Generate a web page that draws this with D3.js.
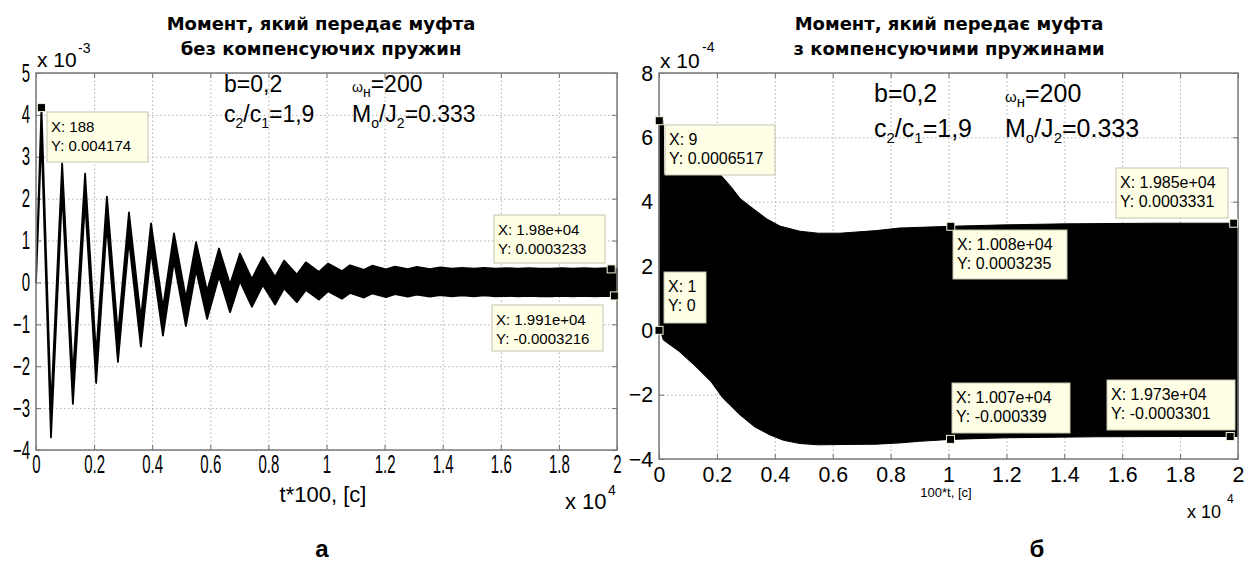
<!DOCTYPE html>
<html>
<head>
<meta charset="utf-8">
<script src="https://cdn.jsdelivr.net/npm/d3@7"></script>
<style>
body { margin: 0; background: #fff; }
svg text { font-family: "Liberation Sans", Arial, sans-serif; fill: #000; }
.title { font-family: "DejaVu Sans", sans-serif !important; font-weight: bold; font-size: 18px; }
.grid line { stroke: #b0b0b0; stroke-dasharray: 1.5, 2.5; }
.grid path, .ticks path { display: none; }
.ticks line { stroke: #707070; }
</style>
</head>
<body>
<svg id="fig" width="1245" height="563"></svg>
<script>
// ---- data: left chart (values x 10^-3), extremes
var leftPeakX = [188, 900, 1690, 2440, 3200, 3960, 4750, 5510, 6300, 7020, 7810, 8540, 9290, 10050,
                 10810, 11570, 12360, 13110, 13910, 14660, 15420, 16180, 16970, 17730, 18480, 19240, 20000];
var leftPeakY = [4.174, 2.84, 2.6, 2.05, 1.67, 1.41, 1.17, 0.96, 0.81, 0.69, 0.6, 0.52, 0.48, 0.45,
                 0.41, 0.4, 0.38, 0.37, 0.36, 0.35, 0.35, 0.34, 0.34, 0.33, 0.33, 0.33, 0.33];
var leftTroughX = [516, 1270, 2070, 2820, 3610, 4370, 5160, 5890, 6680, 7430, 8230, 8980, 9740,
                   10530, 11290, 12050, 12800, 13560, 14320, 15080, 15830, 16590, 17350, 18100, 18860, 19620];
var leftTroughY = [-3.7, -2.9, -2.4, -1.9, -1.53, -1.27, -1.04, -0.87, -0.71, -0.58, -0.53, -0.47, -0.41,
                   -0.39, -0.36, -0.35, -0.34, -0.34, -0.33, -0.33, -0.33, -0.33, -0.33, -0.32, -0.32, -0.32];
var leftBand = 0.33; // half width of the fast oscillation
var leftTipX = [188, 19800, 19910];
var leftTipY = [4.174, 0.3233, -0.3216];
var leftTipText = [["X: 188", "Y: 0.004174"], ["X: 1.98e+04", "Y: 0.0003233"], ["X: 1.991e+04", "Y: -0.0003216"]];

// ---- data: right chart (values x 10^-4), envelope of the black band
var rightUpX = [0, 9, 150, 165, 1000, 2140, 2500, 2800, 3140, 3730, 4180, 4870, 5500, 6250, 7500,
                8300, 10080, 12000, 14000, 17000, 20000];
var rightUpY = [0, 6.517, 6.517, 4.85, 4.85, 4.82, 4.45, 4.1, 3.86, 3.46, 3.24, 3.08, 3.02, 3.02, 3.1,
                3.18, 3.235, 3.28, 3.31, 3.33, 3.33];
var rightLoX = [0, 60, 150, 690, 1240, 1800, 2200, 2760, 3300, 3830, 4300, 4870, 5500, 6250, 7500,
                8320, 9000, 10070, 12000, 15000, 18000, 20000];
var rightLoY = [0, -0.05, -0.3, -0.65, -1.1, -1.6, -2.1, -2.6, -3.0, -3.25, -3.42, -3.52, -3.56, -3.55,
                -3.54, -3.5, -3.45, -3.39, -3.34, -3.31, -3.3, -3.3];
var rightTipX = [9, 1, 10080, 10070, 19850, 19730];
var rightTipY = [6.517, 0, 3.235, -3.39, 3.331, -3.301];
var rightTipText = [["X: 9", "Y: 0.0006517"], ["X: 1", "Y: 0"], ["X: 1.008e+04", "Y: 0.0003235"],
                    ["X: 1.007e+04", "Y: -0.000339"], ["X: 1.985e+04", "Y: 0.0003331"], ["X: 1.973e+04", "Y: -0.0003301"]];

// ---- ticks
var xTicks = [0, 2000, 4000, 6000, 8000, 10000, 12000, 14000, 16000, 18000, 20000];
var xTickLabels = ["0", "0.2", "0.4", "0.6", "0.8", "1", "1.2", "1.4", "1.6", "1.8", "2"];
var leftYTicks = [-4, -3, -2, -1, 0, 1, 2, 3, 4, 5];
var rightYTicks = [-4, -2, 0, 2, 4, 6, 8];

var svg = d3.select("#fig");

function drawFrame(g, x, y, yTicks, o) {
    var x0 = x.range()[0], x1 = x.range()[1], y0 = y.range()[0], y1 = y.range()[1];
    // gridlines
    g.append("g").attr("class", "grid").attr("transform", "translate(0," + y0 + ")")
        .call(d3.axisBottom(x).tickValues(xTicks).tickSize(-(y0 - y1)).tickFormat(""));
    g.append("g").attr("class", "grid").attr("transform", "translate(" + x0 + ",0)")
        .call(d3.axisLeft(y).tickValues(yTicks).tickSize(-(x1 - x0)).tickFormat(""));
    // inward ticks on all four sides
    var bx = g.append("g").attr("class", "ticks").attr("transform", "translate(0," + y0 + ")")
        .call(d3.axisBottom(x).tickValues(xTicks).tickSizeInner(-5).tickSizeOuter(0).tickPadding(o.xPad)
            .tickFormat(function (d, i) { return xTickLabels[i]; }));
    bx.selectAll("text").style("font-size", o.tickFont + "px")
        .attr("transform", "scale(" + o.sx + ",1)");
    var ly = g.append("g").attr("class", "ticks").attr("transform", "translate(" + x0 + ",0)")
        .call(d3.axisLeft(y).tickValues(yTicks).tickSizeInner(-5).tickSizeOuter(0).tickPadding(o.yPad)
            .tickFormat(d3.format("d")));
    ly.selectAll("text").style("font-size", o.tickFont + "px")
        .attr("x", -o.yPad / o.sx).attr("transform", "scale(" + o.sx + ",1)");
    g.append("g").attr("class", "ticks").attr("transform", "translate(0," + y1 + ")")
        .call(d3.axisTop(x).tickValues(xTicks).tickSizeInner(-5).tickSizeOuter(0).tickFormat(""));
    g.append("g").attr("class", "ticks").attr("transform", "translate(" + x1 + ",0)")
        .call(d3.axisRight(y).tickValues(yTicks).tickSizeInner(-5).tickSizeOuter(0).tickFormat(""));
}

function drawBorder(g, x, y) {
    g.append("rect")
        .attr("x", x.range()[0]).attr("y", y.range()[1])
        .attr("width", x.range()[1] - x.range()[0]).attr("height", y.range()[0] - y.range()[1])
        .attr("fill", "none").attr("stroke", "#7a7a7a").attr("stroke-width", 1.5);
}

function drawTips(g, x, y, tx, ty, texts, boxes, fs) {
    boxes.forEach(function (b, i) {
        g.append("rect").attr("x", b[0]).attr("y", b[1]).attr("width", b[2]).attr("height", b[3])
            .attr("fill", "#ffffe6").attr("stroke", "#c4c4b0").attr("stroke-width", 1);
        texts[i].forEach(function (t, j) {
            g.append("text").attr("x", b[0] + 4).attr("y", b[1] + 20 + j * 19)
                .style("font-size", fs + "px").text(t);
        });
    });
    tx.forEach(function (v, i) {
        g.append("rect").attr("x", x(v) - 4).attr("y", y(ty[i]) - 4).attr("width", 8).attr("height", 8)
            .attr("fill", "#000").attr("stroke", "#f4f4dc").attr("stroke-width", 1);
    });
}

function params(g, xb, xw, y1, y2, fs) {
    var sub = Math.round(fs * 0.6) + "px";
    g.append("text").attr("x", xb).attr("y", y1).style("font-size", fs + "px").text("b=0,2");
    var t = g.append("text").attr("x", xw).attr("y", y1).style("font-size", fs + "px");
    t.append("tspan").style("font-size", sub).text("ω");
    t.append("tspan").attr("dy", 5).style("font-size", sub).text("н");
    t.append("tspan").attr("dy", -5).text("=200");
    var c = g.append("text").attr("x", xb).attr("y", y2).style("font-size", fs + "px");
    c.append("tspan").text("c");
    c.append("tspan").attr("dy", 6).style("font-size", sub).text("2");
    c.append("tspan").attr("dy", -6).text("/c");
    c.append("tspan").attr("dy", 6).style("font-size", sub).text("1");
    c.append("tspan").attr("dy", -6).text("=1,9");
    var m = g.append("text").attr("x", xw).attr("y", y2).style("font-size", fs + "px");
    m.append("tspan").text("M");
    m.append("tspan").attr("dy", 6).style("font-size", sub).text("o");
    m.append("tspan").attr("dy", -6).text("/J");
    m.append("tspan").attr("dy", 6).style("font-size", sub).text("2");
    m.append("tspan").attr("dy", -6).text("=0.333");
}

// ================= left chart =================
var xL = d3.scaleLinear().domain([0, 20000]).range([36, 617]);
var yL = d3.scaleLinear().domain([-4, 5]).range([450, 73]);
var gL = svg.append("g");
drawFrame(gL, xL, yL, leftYTicks, { tickFont: 25, sx: 0.6, xPad: 5, yPad: 6 });

var verts = [{ x: 0, hi: 0, lo: 0 }];
leftPeakX.forEach(function (px, i) {
    verts.push({ x: px, hi: leftPeakY[i], lo: leftPeakY[i] - 2 * leftBand });
    if (i < leftTroughX.length)
        verts.push({ x: leftTroughX[i], hi: leftTroughY[i] + 2 * leftBand, lo: leftTroughY[i] });
});
var areaL = d3.area().x(function (d) { return xL(d.x); })
    .y0(function (d) { return yL(d.lo); }).y1(function (d) { return yL(d.hi); });
gL.append("path").datum(verts).attr("d", areaL)
    .attr("fill", "#000").attr("stroke", "#000").attr("stroke-width", 1.8).attr("stroke-linejoin", "round");
drawBorder(gL, xL, yL);

drawTips(gL, xL, yL, leftTipX, leftTipY, leftTipText,
    [[47, 112, 101, 50], [494, 215, 111, 48], [492, 305, 111, 46]], 15);

gL.append("text").attr("class", "title").attr("x", 321).attr("y", 30).attr("text-anchor", "middle")
    .text("Момент, який передає муфта");
gL.append("text").attr("class", "title").attr("x", 321).attr("y", 55).attr("text-anchor", "middle")
    .text("без компенсуючих пружин");
gL.append("text").attr("x", 37).attr("y", 67).style("font-size", "21px").text("x 10");
gL.append("text").attr("x", 78).attr("y", 53).style("font-size", "14px").text("-3");
gL.append("text").attr("x", 323).attr("y", 502).attr("text-anchor", "middle").style("font-size", "22px").text("t*100, [c]");
gL.append("text").attr("x", 565).attr("y", 509).style("font-size", "22px").text("x 10");
gL.append("text").attr("x", 608).attr("y", 495).style("font-size", "14px").text("4");
gL.append("text").attr("x", 322).attr("y", 557).attr("text-anchor", "middle")
    .style("font-size", "24px").style("font-weight", "bold").text("а");
params(gL, 224, 352, 92, 122, 23);

// ================= right chart =================
var xR = d3.scaleLinear().domain([0, 20000]).range([659, 1238]);
var yR = d3.scaleLinear().domain([-4, 8]).range([459, 73]);
var gR = svg.append("g");
drawFrame(gR, xR, yR, rightYTicks, { tickFont: 22, sx: 0.97, xPad: 7, yPad: 6 });

var band = rightUpX.map(function (v, i) { return [v, rightUpY[i]]; })
    .concat(rightLoX.map(function (v, i) { return [v, rightLoY[i]]; }).reverse());
var lineR = d3.line().x(function (d) { return xR(d[0]); }).y(function (d) { return yR(d[1]); });
gR.append("path").attr("d", lineR(band) + "Z").attr("fill", "#000").attr("stroke", "#000").attr("stroke-width", 1);
drawBorder(gR, xR, yR);

drawTips(gR, xR, yR, rightTipX, rightTipY, rightTipText,
    [[665, 125, 110, 50], [664, 272, 42, 51], [953, 230, 114, 49], [952, 383, 118, 50],
     [1116, 168, 112, 50], [1107, 380, 128, 50]], 16);

gR.append("text").attr("class", "title").attr("x", 949).attr("y", 30).attr("text-anchor", "middle")
    .text("Момент, який передає муфта");
gR.append("text").attr("class", "title").attr("x", 949).attr("y", 55).attr("text-anchor", "middle")
    .text("з компенсуючими пружинами");
gR.append("text").attr("x", 660).attr("y", 68).style("font-size", "21px").text("x 10");
gR.append("text").attr("x", 702).attr("y", 52).style("font-size", "14px").text("-4");
gR.append("text").attr("x", 946).attr("y", 497).attr("text-anchor", "middle").style("font-size", "13px").text("100*t, [c]");
gR.append("text").attr("x", 1187).attr("y", 518).style("font-size", "18px").text("x 10");
gR.append("text").attr("x", 1227).attr("y", 503).style("font-size", "12px").text("4");
gR.append("text").attr("x", 1037).attr("y", 557).attr("text-anchor", "middle")
    .style("font-size", "24px").style("font-weight", "bold").text("б");
params(gR, 874, 1005, 102, 137, 25);
</script>
</body>
</html>
